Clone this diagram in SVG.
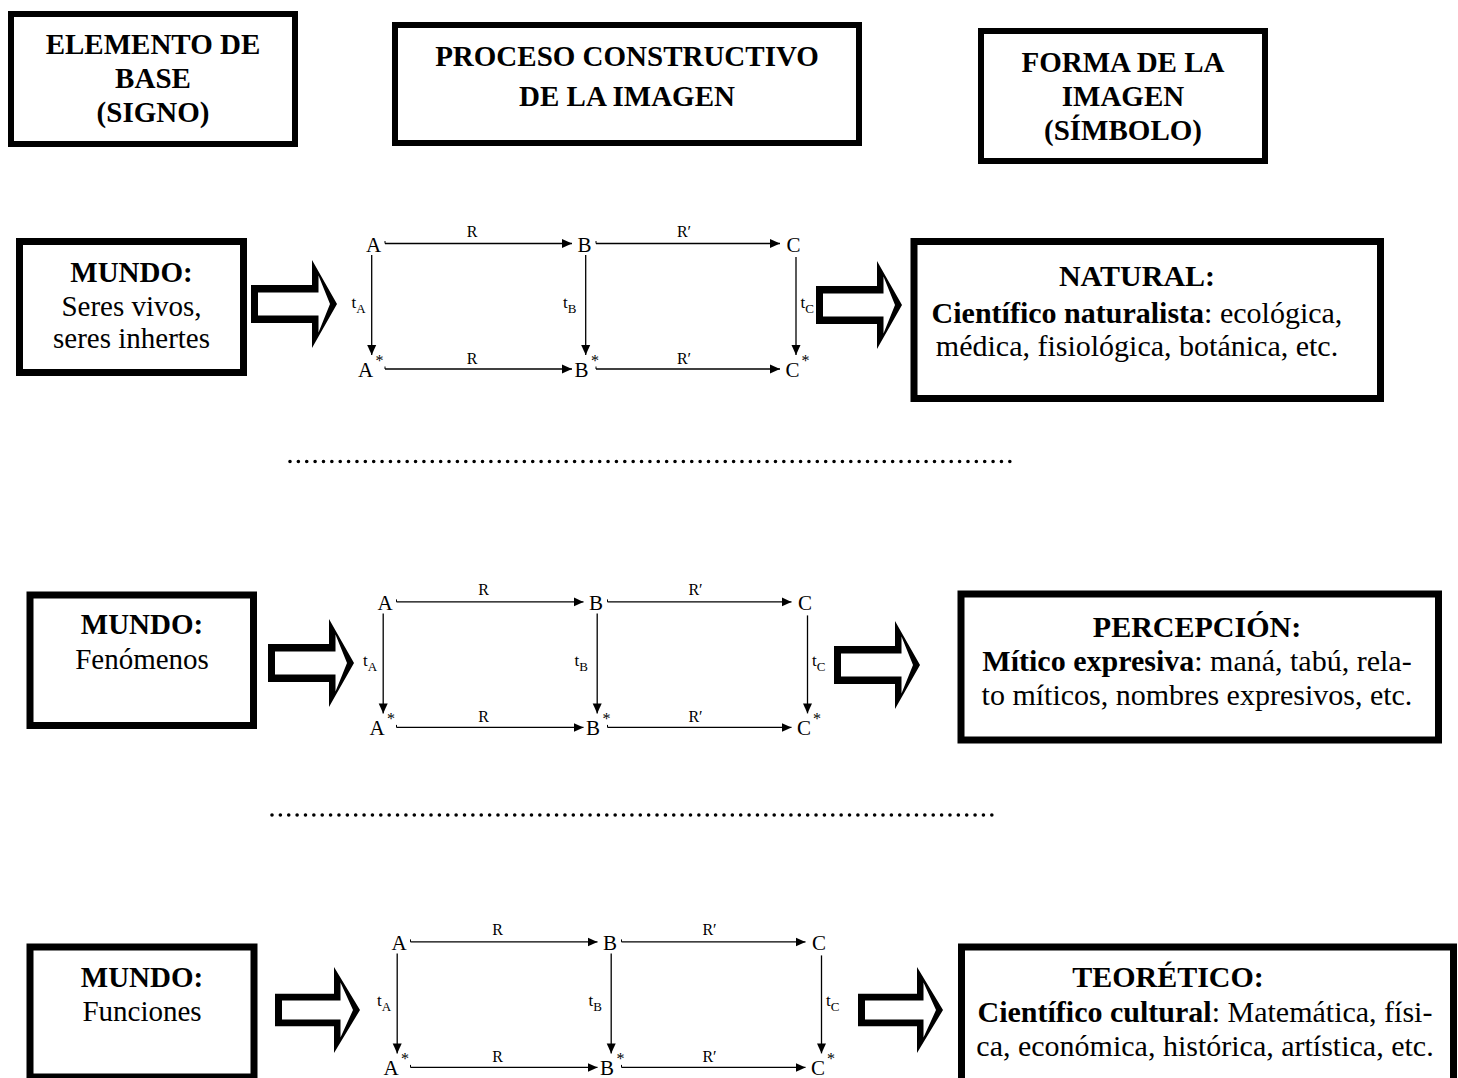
<svg xmlns="http://www.w3.org/2000/svg" width="1458" height="1078" viewBox="0 0 1458 1078">
<defs>
<style>
.t{font-family:"Liberation Serif","Times New Roman",serif;fill:#000}
.hd{font-size:29px;font-weight:bold;text-anchor:middle}
.bd{font-size:29px;text-anchor:middle}
.rb{font-size:30px;text-anchor:middle}
.b{font-weight:bold}
.box6{fill:#fff;stroke:#000;stroke-width:6}
.box7{fill:#fff;stroke:#000;stroke-width:7}
.ln{stroke:#000;stroke-width:1.3;fill:none}
.tk{stroke:#000;stroke-width:1;fill:none}
.lt{font-size:21px;text-anchor:middle}
.lb{font-size:16px;text-anchor:middle}
.tl{font-size:17px}
.sb{font-size:13px}
.as{font-size:16px}
.dots{stroke:#000;stroke-width:3.6;stroke-linecap:round;stroke-dasharray:0 8.37;fill:none}
.blk{fill:#000;fill-rule:evenodd}
</style>
<marker id="ah" viewBox="0 0 10 10" refX="10" refY="5" markerWidth="10" markerHeight="10" markerUnits="userSpaceOnUse" orient="auto">
<path d="M0,0.5 L10,5 L0,9.5 Z" fill="#000"/>
</marker>
<path id="blkA" class="blk" d="M0,-19 L61,-19 L61,-44 L86,0 L61,44 L61,19 L0,19 Z M7,-11.5 L67.5,-11.5 L67.5,-28.5 L79,0 L67.5,28.5 L67.5,11.5 L7,11.5 Z"/>
<path id="blkB" class="blk" d="M0,-16.3 L59,-16.3 L59,-43 L85,0 L59,43 L59,16.3 L0,16.3 Z M7,-9.5 L65.5,-9.5 L65.5,-27.5 L78,0 L65.5,27.5 L65.5,9.5 L7,9.5 Z"/>
<g id="cd">
<g class="ln">
<line x1="385" y1="243.5" x2="572" y2="243.5" marker-end="url(#ah)"/>
<line x1="596" y1="243.5" x2="780" y2="243.5" marker-end="url(#ah)"/>
<line x1="385" y1="369" x2="572" y2="369" marker-end="url(#ah)"/>
<line x1="596" y1="369" x2="780" y2="369" marker-end="url(#ah)"/>
<line x1="371.7" y1="255" x2="371.7" y2="355" marker-end="url(#ah)"/>
<line x1="585.7" y1="255" x2="585.7" y2="355" marker-end="url(#ah)"/>
<line x1="796" y1="257" x2="796" y2="355" marker-end="url(#ah)"/>
</g>
<g class="tk">
<path d="M385,241 v2.5 M596,241 v2.5 M385,366.5 v2.5 M596,366.5 v2.5"/>
</g>
<g class="t">
<text class="lt" x="373.5" y="252">A</text>
<text class="lt" x="584.5" y="252">B</text>
<text class="lt" x="793.5" y="252">C</text>
<text class="lt" x="365.5" y="377">A</text><text class="as" x="375.5" y="366">*</text>
<text class="lt" x="581.5" y="377">B</text><text class="as" x="591" y="366">*</text>
<text class="lt" x="792.5" y="377">C</text><text class="as" x="801.5" y="366">*</text>
<text class="lb" x="472" y="237">R</text>
<text class="lb" x="684" y="237">R′</text>
<text class="lb" x="472" y="364">R</text>
<text class="lb" x="684" y="364">R′</text>
<text class="tl" x="351.5" y="308">t<tspan class="sb" dy="5">A</tspan></text>
<text class="tl" x="563" y="308">t<tspan class="sb" dy="5">B</tspan></text>
<text class="tl" x="800.5" y="308">t<tspan class="sb" dy="5">C</tspan></text>
</g>
</g>
</defs>
<rect x="0" y="0" width="1458" height="1078" fill="#fff"/>

<g id="hdr-elemento">
<rect class="box6" x="11" y="14" width="284" height="130"/>
<text class="t hd" x="153" y="54">ELEMENTO DE</text>
<text class="t hd" x="153" y="88">BASE</text>
<text class="t hd" x="153" y="122">(SIGNO)</text>
</g>
<g id="hdr-proceso">
<rect class="box6" x="395" y="25" width="464" height="118"/>
<text class="t hd" x="627" y="66">PROCESO CONSTRUCTIVO</text>
<text class="t hd" x="627" y="106">DE LA IMAGEN</text>
</g>
<g id="hdr-forma">
<rect class="box6" x="981" y="31" width="284" height="130"/>
<text class="t hd" x="1123" y="72">FORMA DE LA</text>
<text class="t hd" x="1123" y="106">IMAGEN</text>
<text class="t hd" x="1123" y="140">(SÍMBOLO)</text>
</g>

<g id="mundo-1">
<rect class="box7" x="19.5" y="241.5" width="224" height="131"/>
<text class="t hd" x="131.5" y="282">MUNDO:</text>
<text class="t bd" x="131.5" y="316">Seres vivos,</text>
<text class="t bd" x="131.5" y="348">seres inhertes</text>
</g>
<g id="mundo-2">
<rect class="box7" x="30" y="595" width="223.5" height="130.5"/>
<text class="t hd" x="142" y="634">MUNDO:</text>
<text class="t bd" x="142" y="669">Fenómenos</text>
</g>
<g id="mundo-3">
<rect class="box7" x="30" y="947" width="224" height="130"/>
<text class="t hd" x="142" y="987">MUNDO:</text>
<text class="t bd" x="142" y="1021">Funciones</text>
</g>

<g id="natural">
<rect class="box7" x="914" y="241.5" width="466.5" height="157"/>
<text class="t rb b" x="1137" y="286">NATURAL:</text>
<text class="t rb" x="1137" y="323"><tspan class="b">Científico naturalista</tspan>: ecológica,</text>
<text class="t rb" x="1137" y="356">médica, fisiológica, botánica, etc.</text>
</g>
<g id="percepcion">
<rect class="box7" x="961" y="594" width="477.5" height="146"/>
<text class="t rb b" x="1197" y="637">PERCEPCIÓN:</text>
<text class="t rb" x="1197" y="671"><tspan class="b">Mítico expresiva</tspan>: maná, tabú, rela-</text>
<text class="t rb" x="1197" y="705">to míticos, nombres expresivos, etc.</text>
</g>
<g id="teoretico">
<rect class="box7" x="961.5" y="947" width="492" height="140"/>
<text class="t rb b" x="1168" y="987">TEORÉTICO:</text>
<text class="t rb" x="1205" y="1022"><tspan class="b">Científico cultural</tspan>: Matemática, físi-</text>
<text class="t rb" x="1205" y="1056">ca, económica, histórica, artística, etc.</text>
</g>

<g id="diagram-1"><use href="#cd"/></g>
<g id="diagram-2"><use href="#cd" transform="translate(11.5,358.4)"/></g>
<g id="diagram-3"><use href="#cd" transform="translate(25.5,698.4)"/></g>

<g id="connectors">
<use href="#blkA" transform="translate(251,304)"/>
<use href="#blkA" transform="translate(816,305)"/>
<use href="#blkA" transform="translate(268,663)"/>
<use href="#blkA" transform="translate(834,665)"/>
<use href="#blkB" transform="translate(275,1010)"/>
<use href="#blkB" transform="translate(858,1010)"/>
</g>

<g id="separators">
<line class="dots" x1="290" y1="461.5" x2="1010" y2="461.5"/>
<line class="dots" x1="272" y1="815" x2="992" y2="815"/>
</g>
</svg>
